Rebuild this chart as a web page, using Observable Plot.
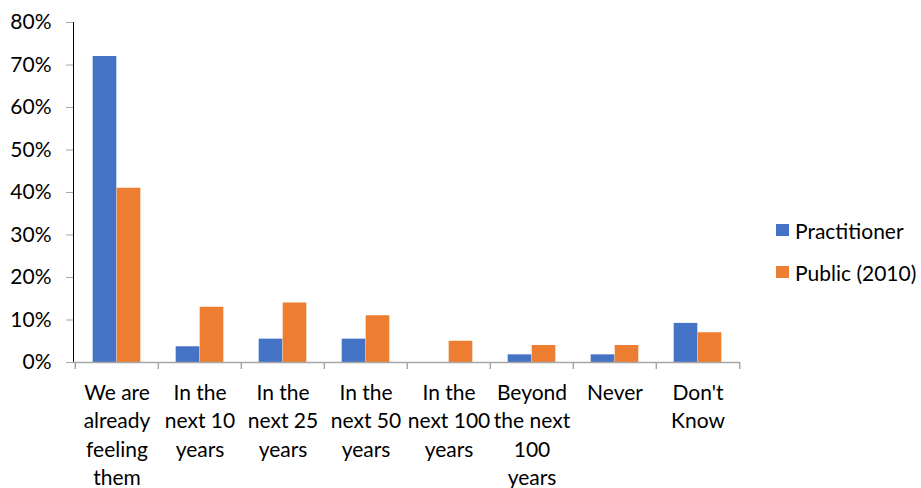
<!DOCTYPE html>
<html>
<head>
<meta charset="utf-8">
<script src="https://cdn.jsdelivr.net/npm/d3@7"></script>
<script src="https://cdn.jsdelivr.net/npm/@observablehq/plot@0.6"></script>
<style>
  html, body { margin: 0; padding: 0; background: #fff; }
  #wrap { position: relative; width: 921px; height: 488px; font-family: Lato, "Open Sans", sans-serif; }
  #legend { position: absolute; left: 776px; top: 216px; font-size: 21px; color: #000; }
  .item { display: flex; align-items: center; height: 28px; margin-bottom: 14px; }
  .sw { width: 13px; height: 12px; margin-right: 6px; }
  svg [aria-label="y-axis tick"] path { stroke: #a6a6a6; }
  svg [aria-label="y-axis line"] path, svg [aria-label="y-axis line"] line { stroke: #a6a6a6; }
</style>
</head>
<body>
<div id="wrap"><div id="legend"></div></div>
<script>
const categories = ["We are already feeling them", "In the next 10 years", "In the next 25 years", "In the next 50 years", "In the next 100 years", "Beyond the next 100 years", "Never", "Don't Know"];
const categoryLabels = ["We are\nalready\nfeeling\nthem", "In the\nnext 10\nyears", "In the\nnext 25\nyears", "In the\nnext 50\nyears", "In the\nnext 100\nyears", "Beyond\nthe next\n100\nyears", "Never", "Don't\nKnow"];
const series = ["Practitioner", "Public (2010)"];
const practitioner = [0.72, 0.037, 0.055, 0.055, 0, 0.018, 0.018, 0.092];
const publicValues = [0.41, 0.13, 0.14, 0.11, 0.05, 0.04, 0.04, 0.07];
const yTicks = [0, 0.1, 0.2, 0.3, 0.4, 0.5, 0.6, 0.7, 0.8];
const colors = ["#4472C4", "#ED7D31"];

const W = 921, H = 488, ML = 73, MR = 181, MT = 22, MB = 126;
const step = (W - ML - MR) / categories.length;
const barW = 24;
const side = (step - 2 * barW) / 2;

const rowsP = categories.map((c, i) => ({cat: c, value: practitioner[i]}));
const rowsQ = categories.map((c, i) => ({cat: c, value: publicValues[i]}));
const lastCat = [categories[categories.length - 1]];

const chart = Plot.plot({
  width: W, height: H,
  marginLeft: ML, marginRight: MR, marginTop: MT, marginBottom: MB,
  style: {fontFamily: "Lato, 'Open Sans', sans-serif", fontSize: "21px", color: "#000", background: "#fff"},
  x: {domain: categories, padding: 0, axis: null},
  y: {domain: [0, 0.8], ticks: yTicks, tickFormat: d3.format(".0%"), tickSize: 7, tickPadding: 15, line: true, label: null},
  marks: [
    Plot.barY(rowsP, {x: "cat", y: "value", fill: colors[0], insetLeft: side, insetRight: step - side - barW}),
    Plot.barY(rowsQ, {x: "cat", y: "value", fill: colors[1], insetLeft: side + barW, insetRight: side}),
    Plot.ruleY([0], {stroke: "#a6a6a6", strokeWidth: 1.5}),
    Plot.ruleX(categories, {x: d => d, dx: -step / 2, stroke: "#a6a6a6", strokeWidth: 1.5, insetTop: H - MT - MB, insetBottom: -7}),
    Plot.ruleX(lastCat, {x: d => d, dx: step / 2, stroke: "#a6a6a6", strokeWidth: 1.5, insetTop: H - MT - MB, insetBottom: -7}),
    Plot.text(categories, {x: d => d, y: 0, text: (d, i) => categoryLabels[i], lineAnchor: "top", dy: 17, lineHeight: 1.357, fontSize: 21, fill: "#000"})
  ]
});
document.getElementById("wrap").prepend(chart);
chart.style.position = "absolute"; chart.style.left = "0"; chart.style.top = "0";

const legend = document.getElementById("legend");
series.forEach((s, i) => {
  const it = document.createElement("div"); it.className = "item";
  const sw = document.createElement("div"); sw.className = "sw"; sw.style.background = colors[i];
  const tx = document.createElement("span"); tx.textContent = s;
  it.append(sw, tx); legend.append(it);
});
</script>
</body>
</html>
